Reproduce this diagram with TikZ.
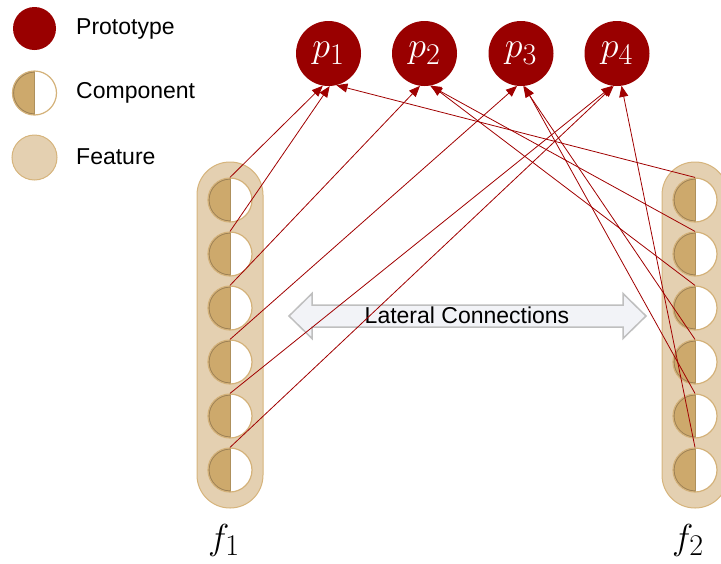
\documentclass[tikz,border=0pt]{standalone}
\usepackage{graphicx}
\usepackage[no-math]{fontspec}
\setmainfont{Liberation Sans}
\usetikzlibrary{arrows.meta}

\definecolor{protored}{HTML}{990000}
\definecolor{linkred}{HTML}{A00000}
\definecolor{featfill}{HTML}{E4D0B1}
\definecolor{featedge}{HTML}{D6B47C}
\definecolor{compfill}{HTML}{CDA96C}
\definecolor{compshade}{HTML}{9C8054}
\definecolor{compedge}{HTML}{D4B27A}
\definecolor{arrowfill}{HTML}{F2F3F7}
\definecolor{arrowedge}{HTML}{BFBFBF}

% large math symbols: set at the biggest CM size and scaled up
\newcommand{\bigmath}[1]{\scalebox{1.45}{\fontsize{24.88}{28}\selectfont$#1$}}

\tikzset{
  proto/.style={circle, fill=protored, minimum size=65pt, inner sep=0pt, text=white},
  comp/.style={circle, minimum size=44pt, inner sep=0pt, fill=white,
    draw=compedge, line width=1.2pt,
    path picture={
      \begin{scope}
        \clip (path picture bounding box.south west) rectangle (path picture bounding box.north);
        \fill[compfill] (path picture bounding box.south west) rectangle (path picture bounding box.north);
        \draw[compshade, line width=3pt] (path picture bounding box.center) circle[radius=22pt];
      \end{scope}
      \draw[compfill!85!black, line width=0.8pt] (path picture bounding box.north) -- (path picture bounding box.south);
    }},
  feat/.style={circle, minimum size=45pt, inner sep=0pt, fill=featfill, draw=featedge, line width=1pt},
  featbar/.style={rectangle, rounded corners=32.9pt, minimum width=66pt, minimum height=346pt,
    inner sep=0pt, fill=featfill, draw=featedge, line width=1pt},
  link/.style={draw=linkred, line width=0.8pt, -{Triangle[length=11pt,width=9pt]}},
  legendtext/.style={anchor=west, inner sep=0pt, font=\fontsize{23}{26}\selectfont},
  flabel/.style={anchor=base, inner sep=0pt},
}

\begin{document}
\begin{tikzpicture}[x=1pt, y=-1pt]
  \useasboundingbox (0,0) rectangle (721,563);
  \clip (0,0) rectangle (721,563);

  % legend
  \node[proto, minimum size=43pt] (lgproto) at (34.5,28.5) {};
  \node[comp] (lgcomp) at (34.5,93) {};
  \node[feat] (lgfeat) at (34.5,157.5) {};
  \node[legendtext] (lgprototxt) at (76,28.5) {Prototype};
  \node[legendtext] (lgcomptxt) at (76,92.5) {Component};
  \node[legendtext] (lgfeattxt) at (76,157) {Feature};

  % prototypes
  \node[proto] (p1) at (328.5,53.5) {\bigmath{p_1}};
  \node[proto] (p2) at (424.5,53.5) {\bigmath{p_2}};
  \node[proto] (p3) at (521,53.5) {\bigmath{p_3}};
  \node[proto] (p4) at (617,53.5) {\bigmath{p_4}};

  % feature bars
  \node[featbar] (f1) at (230,335) {};
  \node[featbar] (f2) at (695,335) {};

  % components on each bar
  \foreach \i/\y in {1/200,2/254,3/308,4/362,5/416,6/470}{
    \node[comp] (L\i) at (230,\y) {};
    \node[comp] (R\i) at (695,\y) {};
  }

  % lateral connections double arrow
  \draw[fill=arrowfill, draw=arrowedge, line width=1.5pt]
    (289,316) -- (312,293.5) -- (312,305) -- (623,305) -- (623,293.5) -- (646,316)
    -- (623,338.5) -- (623,327) -- (312,327) -- (312,338.5) -- cycle;
  \node[inner sep=0pt, font=\fontsize{23}{26}\selectfont] (lateral) at (467,315) {Lateral Connections};

  % component-to-prototype links
  \draw[link] (L1.north) -- (p1.-100);
  \draw[link] (L2.north) -- (p1.-88);
  \draw[link] (L3.north) -- (p2.-98);
  \draw[link] (L4.north) -- (p3.-97);
  \draw[link] (L5.north) -- (p4.-98);
  \draw[link] (L6.north) -- (p4.-96);
  \draw[link] (R1.north) -- (p1.-76);
  \draw[link] (R2.north) -- (p2.-80);
  \draw[link] (R3.north) -- (p2.-78);
  \draw[link] (R4.north) -- (p3.-86);
  \draw[link] (R5.north) -- (p3.-84);
  \draw[link] (R6.north) -- (p4.-82);

  % bar labels
  \node[flabel] (f1lab) at (224,549) {\bigmath{f_1}};
  \node[flabel] (f2lab) at (688,549) {\bigmath{f_2}};
\end{tikzpicture}
\end{document}
